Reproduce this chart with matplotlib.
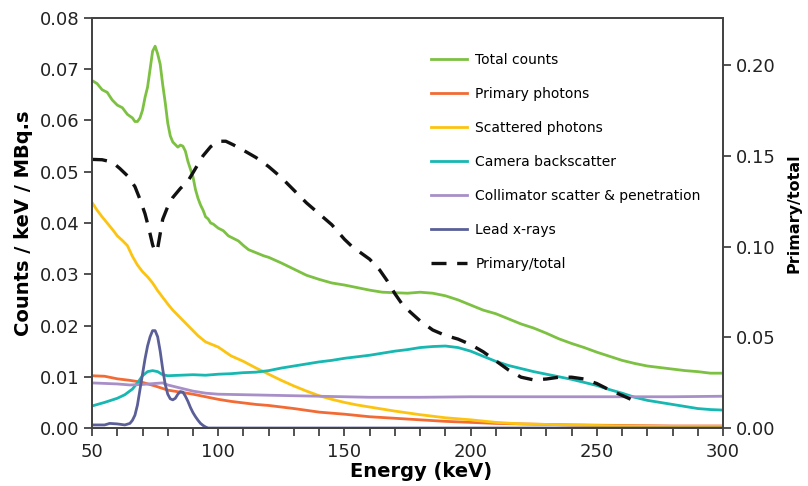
import matplotlib
matplotlib.use("Agg")
import matplotlib.pyplot as plt
from matplotlib.ticker import MultipleLocator, FormatStrFormatter

plt.rcParams['font.family'] = ['DejaVu Sans']

# Total counts
e_total = [50, 52, 54, 56, 58, 60, 62, 64, 66, 67, 68, 69, 70, 71, 72, 73, 74, 75, 76, 77, 78, 79,
           80, 81, 82, 83, 84, 85, 86, 87, 88, 89, 90, 91, 92, 93, 94, 95, 96, 97, 98, 100, 102,
           104, 106, 108, 110, 112, 115, 118, 120, 125, 130, 135, 140, 145, 150, 155, 160, 165,
           170, 175, 180, 185, 190, 195, 200, 205, 210, 215, 220, 225, 230, 235, 240, 245, 250,
           255, 260, 265, 270, 275, 280, 285, 290, 295, 300]
total = [0.0678, 0.0672, 0.0660, 0.0655, 0.0640, 0.0630, 0.0625, 0.0612, 0.0605, 0.0598, 0.0598,
         0.0605, 0.0620, 0.0645, 0.0665, 0.0700, 0.0735, 0.0745, 0.0730, 0.0710, 0.0670, 0.0635,
         0.0595, 0.0570, 0.0558, 0.0553, 0.0548, 0.0552, 0.0550, 0.0540, 0.0520, 0.0505, 0.0490,
         0.0465, 0.0448, 0.0435, 0.0425, 0.0412, 0.0408, 0.0400, 0.0398, 0.0390, 0.0385, 0.0375,
         0.0370, 0.0365, 0.0356, 0.0348, 0.0342, 0.0336, 0.0333, 0.0322, 0.0310, 0.0298, 0.0290,
         0.0283, 0.0279, 0.0274, 0.0269, 0.0265, 0.0264, 0.0263, 0.0265, 0.0263, 0.0258, 0.0250,
         0.0240, 0.0230, 0.0223, 0.0213, 0.0203, 0.0195, 0.0185, 0.0174, 0.0165, 0.0157, 0.0148,
         0.0140, 0.0132, 0.0126, 0.0121, 0.0118, 0.0115, 0.0112, 0.0110, 0.0107, 0.0107]

# Primary photons
e_primary = [50, 55, 60, 65, 70, 75, 80, 85, 90, 95, 100, 105, 110, 115, 120, 130, 140, 150, 160,
             170, 180, 190, 200, 210, 220, 230, 240, 260, 280, 300]
primary = [0.0102, 0.0101, 0.0096, 0.0093, 0.0089, 0.0082, 0.0074, 0.0070, 0.0066, 0.0061, 0.0056,
           0.0052, 0.0049, 0.0046, 0.0044, 0.0038, 0.0031, 0.0027, 0.0022, 0.0019, 0.0016, 0.0013,
           0.0011, 0.0009, 0.0008, 0.0007, 0.0006, 0.0005, 0.0004, 0.0004]

# Scattered photons
e_scatter = [50, 52, 54, 56, 58, 60, 62, 64, 66, 68, 70, 72, 74, 76, 78, 80, 82, 84, 86, 88, 90, 92,
             95, 100, 105, 110, 115, 120, 125, 130, 135, 140, 145, 150, 155, 160, 165, 170, 180,
             190, 200, 210, 220, 230, 240, 260, 280, 300]
scatter = [0.0440, 0.0425, 0.0412, 0.0400, 0.0388, 0.0375, 0.0366, 0.0356, 0.0335, 0.0318, 0.0305,
           0.0295, 0.0283, 0.0268, 0.0255, 0.0242, 0.0230, 0.0220, 0.0210, 0.0200, 0.0190, 0.0180,
           0.0168, 0.0158, 0.0141, 0.0130, 0.0117, 0.0105, 0.0093, 0.0082, 0.0072, 0.0063, 0.0056,
           0.0050, 0.0045, 0.0041, 0.0037, 0.0033, 0.0026, 0.0020, 0.0016, 0.0011, 0.0008, 0.0007,
           0.0006, 0.0004, 0.0003, 0.0003]

# Camera backscatter
e_camera = [50, 55, 60, 63, 66, 68, 70, 72, 74, 76, 78, 80, 85, 90, 95, 100, 105, 110, 115, 120,
            125, 130, 135, 140, 145, 150, 155, 160, 165, 170, 175, 180, 185, 190, 195, 200, 205,
            210, 215, 220, 225, 230, 235, 240, 245, 250, 255, 260, 265, 270, 275, 280, 285, 290,
            295, 300]
camera = [0.0043, 0.0050, 0.0058, 0.0065, 0.0076, 0.0088, 0.0102, 0.0110, 0.0112, 0.0110, 0.0104,
          0.0102, 0.0103, 0.0104, 0.0103, 0.0105, 0.0106, 0.0108, 0.0109, 0.0112, 0.0117, 0.0121,
          0.0125, 0.0129, 0.0132, 0.0136, 0.0139, 0.0142, 0.0146, 0.0150, 0.0153, 0.0157, 0.0159,
          0.0160, 0.0157, 0.0150, 0.0140, 0.0130, 0.0122, 0.0116, 0.0110, 0.0105, 0.0100, 0.0095,
          0.0089, 0.0083, 0.0075, 0.0068, 0.0060, 0.0054, 0.0050, 0.0046, 0.0042, 0.0038, 0.0036,
          0.0035]

# Collimator scatter & penetration
e_collim = [50, 55, 60, 65, 70, 75, 78, 80, 85, 90, 95, 100, 110, 120, 140, 160, 180, 200, 220,
            240, 260, 280, 300]
collim = [0.0088, 0.0087, 0.0086, 0.0084, 0.0085, 0.0087, 0.0088, 0.0084, 0.0078, 0.0072, 0.0068,
          0.0066, 0.0065, 0.0064, 0.0062, 0.0060, 0.0060, 0.0061, 0.0061, 0.0061, 0.0061, 0.0061,
          0.0062]

# Lead x-rays
e_lead = [50, 55, 57, 60, 63, 65, 66, 67, 68, 69, 70, 71, 72, 73, 74, 75, 76, 77, 78, 79, 80, 81,
          82, 83, 84, 85, 86, 87, 88, 89, 90, 91, 92, 93, 94, 95, 96, 300]
lead = [0.0006, 0.0006, 0.0009, 0.0008, 0.0006, 0.0009, 0.0015, 0.0025, 0.0045, 0.0075, 0.0105,
        0.0135, 0.0160, 0.0178, 0.0190, 0.0190, 0.0178, 0.0150, 0.0115, 0.0085, 0.0066, 0.0057,
        0.0055, 0.0058, 0.0066, 0.0071, 0.0070, 0.0062, 0.0052, 0.0040, 0.0030, 0.0022, 0.0015,
        0.0009, 0.0005, 0.0002, 0.0, 0.0]

# Primary/total ratio (right axis)
e_ratio = [50, 54, 58, 61, 64, 67, 69, 71, 72.5, 74, 75, 76, 77, 78, 80, 82, 85, 88, 91, 94, 97,
           100, 103, 106, 110, 115, 120, 125, 130, 135, 140, 145, 150, 153, 157, 160, 164, 167,
           170, 173, 176, 180, 185, 190, 195, 200, 205, 210, 215, 220, 225, 230, 235, 240, 245,
           250, 255, 260, 264]
ratio = [0.148, 0.1478, 0.1465, 0.143, 0.139, 0.133, 0.126, 0.118, 0.110, 0.101, 0.097, 0.099,
         0.107, 0.115, 0.122, 0.127, 0.132, 0.136, 0.143, 0.150, 0.155, 0.158, 0.158, 0.156, 0.153,
         0.149, 0.144, 0.138, 0.131, 0.124, 0.118, 0.112, 0.104, 0.100, 0.096, 0.093, 0.087, 0.081,
         0.074, 0.068, 0.064, 0.059, 0.054, 0.051, 0.049, 0.046, 0.042, 0.037, 0.032, 0.028,
         0.0265, 0.027, 0.028, 0.028, 0.027, 0.0245, 0.021, 0.018, 0.0155]

fig = plt.figure(figsize=(8.08, 4.86), dpi=100)
ax = fig.add_axes([0.1139, 0.1193, 0.7809, 0.8437])
ax2 = ax.twinx()

lw = 2.0
ax.plot(e_total, total, color='#7dc142', lw=lw, label='Total counts')
ax.plot(e_primary, primary, color='#f26b35', lw=lw, label='Primary photons')
ax.plot(e_scatter, scatter, color='#fcc410', lw=lw, label='Scattered photons')
ax.plot(e_camera, camera, color='#17b7b2', lw=lw, label='Camera backscatter')
ax.plot(e_collim, collim, color='#a88fc8', lw=lw, label='Collimator scatter & penetration')
ax.plot(e_lead, lead, color='#5a5f98', lw=lw, label='Lead x-rays')
ax2.plot(e_ratio, ratio, color='#111111', lw=2.4, dashes=(4.5, 3.2), label='Primary/total')

ax.set_xlim(50, 300)
ax.set_ylim(0, 0.08)
ax2.set_ylim(0, 0.2259)

ax.xaxis.set_major_locator(MultipleLocator(50))
ax.xaxis.set_minor_locator(MultipleLocator(10))
ax.yaxis.set_major_locator(MultipleLocator(0.01))
ax.yaxis.set_major_formatter(FormatStrFormatter('%.2f'))
ax2.yaxis.set_major_locator(MultipleLocator(0.05))
ax2.yaxis.set_major_formatter(FormatStrFormatter('%.2f'))

ax.tick_params(axis='both', which='both', direction='out', length=5.5, width=1.2,
               colors='#333333', labelsize=13, labelcolor='#222222')
ax.tick_params(axis='x', which='both', pad=5)
ax2.tick_params(axis='y', direction='out', length=5.5, width=1.2,
                colors='#333333', labelsize=13, labelcolor='#222222')
for a in (ax, ax2):
    for s in a.spines.values():
        s.set_color('#444444')
        s.set_linewidth(1.3)

ax.set_xlabel('Energy (keV)', fontsize=14, fontweight='bold')
ax.xaxis.set_label_coords(0.521, -0.084)
ax.set_ylabel('Counts / keV / MBq.s', fontsize=14, fontweight='bold', labelpad=5)
ax2.set_ylabel('Primary/total', fontsize=11.5, fontweight='bold')
ax2.yaxis.set_label_coords(1.101, 0.524)

h1, l1 = ax.get_legend_handles_labels()
h2, l2 = ax2.get_legend_handles_labels()
ax2.legend(h1 + h2, l1 + l2, loc='upper left', bbox_to_anchor=(431 / 808, 1 - 53 / 486),
           bbox_transform=fig.transFigure, frameon=False, fontsize=10,
           labelspacing=1.44, handlelength=2.6, handletextpad=0.6,
           borderpad=0, borderaxespad=0)

fig.savefig('out.png', dpi=100)
